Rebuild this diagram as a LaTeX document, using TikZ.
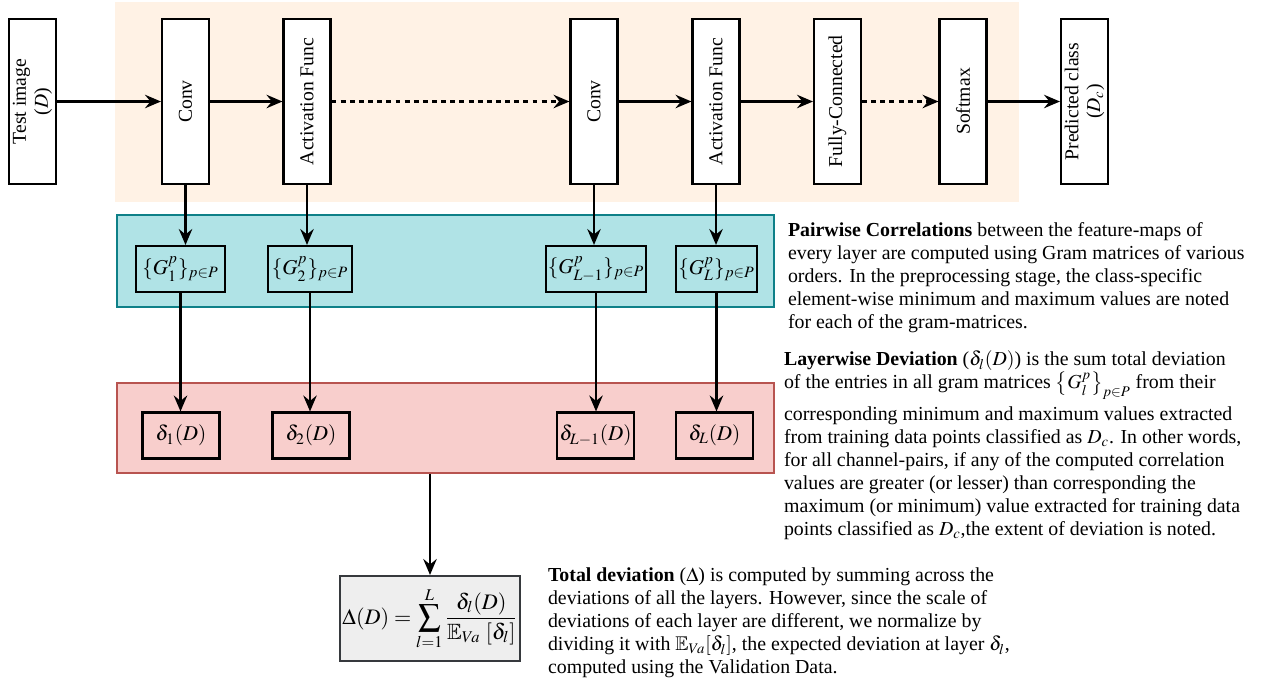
\documentclass[tikz,border=0pt]{standalone}
\usepackage{amsmath}
\usepackage{mathptmx}
\usepackage{amssymb}
\usepackage{fontspec}
\setmainfont{Liberation Serif}
\usetikzlibrary{positioning,arrows.meta}

\definecolor{bgorange}{HTML}{FFF2E5}
\definecolor{cyanfill}{HTML}{B0E3E6}
\definecolor{cyanline}{HTML}{0E8088}
\definecolor{pinkfill}{HTML}{F8CECC}
\definecolor{pinkline}{HTML}{B85450}
\definecolor{grayfill}{HTML}{EEEEEE}
\definecolor{grayline}{HTML}{36393D}

\begin{document}
\begin{tikzpicture}
    [x=0.02cm, y=-0.02cm,
    layer/.style={rectangle, rotate=90,
        draw, fill=white, line width=1.2pt,
        minimum width=3.3cm, minimum height=0.94cm,
        inner sep=1pt, align=center,
        font=\fontsize{11.2}{12.5}\selectfont},
    gram/.style={rectangle, draw, line width=1.2pt,
        minimum height=0.92cm, inner sep=1pt,
        font=\fontsize{12}{14}\selectfont},
    dev/.style={gram, minimum width=1.54cm},
    band/.style={rectangle, line width=0.8pt, inner sep=0pt},
    txt/.style={anchor=north west, align=left, inner sep=0pt,
        font=\fontsize{11.3}{13.1}\selectfont},
    >={Stealth[length=3.2mm, width=2.7mm, inset=1.1mm]},
    line width=1.2pt]

    \useasboundingbox (0,0) rectangle (1274,684);

    \fill[bgorange] (115,2) rectangle (1019,202);
    \node[band, draw=cyanline, fill=cyanfill,
        minimum width=13.14cm, minimum height=1.84cm]
        (gramband) at (445.5,261) {};
    \node[band, draw=pinkline, fill=pinkfill,
        minimum width=13.14cm, minimum height=1.8cm]
        (devband) at (445.5,428) {};

    \node[layer] (img) at (32.5,101.5) {Test image\\($D$)};
    \node[layer] (conv1) at (185.5,101.5) {Conv};
    \node[layer] (act1) at (307,101.5) {Activation Func};
    \node[layer] (conv2) at (594,101.5) {Conv};
    \node[layer] (act2) at (716,101.5) {Activation Func};
    \node[layer] (fc) at (837.5,101.5) {Fully-Connected};
    \node[layer] (soft) at (963,101.5) {Softmax};
    \node[layer] (pred) at (1084.5,101.5) {Predicted class\\($D_c$)};

    \path[->]
        (img)   edge (conv1)
        (conv1) edge (act1)
        (conv2) edge (act2)
        (act2)  edge (fc)
        (soft)  edge (pred);
    \path[->, dash pattern=on 2.8pt off 2.4pt]
        (act1) edge (conv2)
        (fc)   edge (soft);

    \node[gram, minimum width=1.78cm] (g1) at (180.5,269)
        {$\{G_1^p\}_{p\in P}$};
    \node[gram, minimum width=1.68cm] (g2) at (310,269)
        {$\{G_2^p\}_{p\in P}$};
    \node[gram, minimum width=1.92cm] (gl1) at (596,269)
        {$\{G_{L-1}^p\}_{p\in P}$};
    \node[gram, minimum width=1.62cm] (gl) at (716.5,269)
        {$\{G_L^p\}_{p\in P}$};

    \node[dev] (d1) at (181,435.5) {$\delta_1(D)$};
    \node[dev] (d2) at (311,435.5) {$\delta_2(D)$};
    \node[dev] (dl1) at (595.5,435.5) {$\delta_{L-1}(D)$};
    \node[dev] (dl) at (714.5,435.5) {$\delta_L(D)$};

    \draw[->] (conv1) -- (conv1 |- g1.north);
    \draw[->] (act1) -- (act1 |- g2.north);
    \draw[->] (conv2) -- (conv2 |- gl1.north);
    \draw[->] (act2) -- (act2 |- gl.north);

    \draw[->] (g1) -- (g1 |- d1.north);
    \draw[->] (g2) -- (g2 |- d2.north);
    \draw[->] (gl1) -- (gl1 |- dl1.north);
    \draw[->] (gl) -- (gl |- dl.north);

    \node[rectangle, draw=grayline, fill=grayfill, line width=1.2pt,
        minimum width=3.6cm, minimum height=1.7cm, inner sep=1pt,
        font=\fontsize{12.6}{15}\selectfont]
        (total) at (430,618.5)
        {$\displaystyle \Delta(D) = \sum_{l=1}^{L}
            \frac{\delta_l(D)}{\mathbb{E}_{Va}\ [\delta_l]}$};
    \draw[->] (total |- devband.south) -- (total.north);

    \node[txt] (pairtxt) at (787,221)
        {\textbf{Pairwise Correlations} between the feature-maps of\\
        every layer are computed using Gram matrices of various\\
        orders. In the preprocessing stage, the class-specific\\
        element-wise minimum and maximum values are noted\\
        for each of the gram-matrices.};
    \node[txt] (layertxt) at (783,350)
        {\textbf{Layerwise Deviation} ($\delta_l(D)$) is the sum total deviation\\
        of the entries in all gram matrices $\left\{G_l^p\right\}_{p\in P}$ from their\\[3pt]
        corresponding minimum and maximum values extracted\\
        from training data points classified as $D_c$. In other words,\\
        for all channel-pairs, if any of the computed correlation\\
        values are greater (or lesser) than corresponding the\\
        maximum (or minimum) value extracted for training data\\
        points classified as $D_c$,the extent of deviation is noted.};
    \node[txt] (totaltxt) at (547,567)
        {\textbf{Total deviation} ($\Delta$) is computed by summing across the\\
        deviations of all the layers. However, since the scale of\\
        deviations of each layer are different, we normalize by\\
        dividing it with $\mathbb{E}_{Va}[\delta_l]$, the expected deviation at layer $\delta_l$,\\
        computed using the Validation Data.};
\end{tikzpicture}
\end{document}
